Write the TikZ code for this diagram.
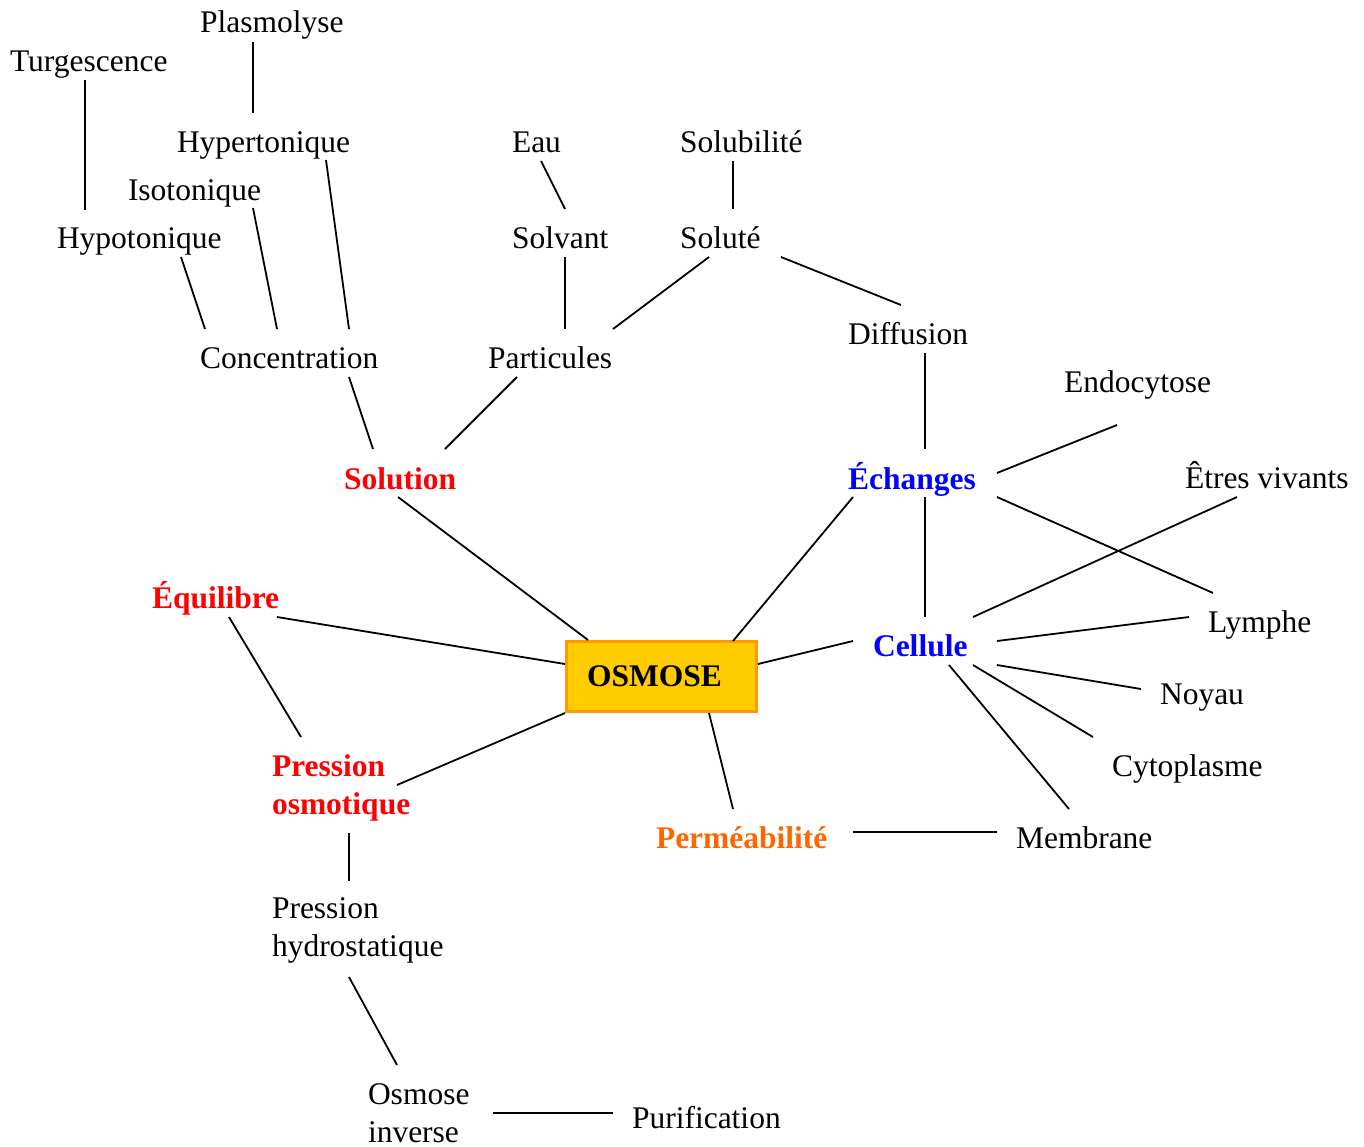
\documentclass[tikz,border=0pt]{standalone}
\usepackage{fontspec}
\setmainfont{Liberation Serif}
\definecolor{cred}{HTML}{FF0000}
\definecolor{cblue}{HTML}{0000FF}
\definecolor{corange}{HTML}{FF6600}
\definecolor{boxfill}{HTML}{FFCC00}
\definecolor{boxline}{HTML}{FF9900}
\begin{document}
\begin{tikzpicture}[x=1pt,y=-1pt,
  lbl/.style={anchor=base west,inner sep=0pt,outer sep=0pt,font=\fontsize{31.5}{38}\selectfont,align=left},
  keyred/.style={lbl,text=cred,font=\fontsize{31.5}{38}\selectfont\bfseries},
  keyblue/.style={lbl,text=cblue,font=\fontsize{31.5}{38}\selectfont\bfseries},
  keyorange/.style={lbl,text=corange,font=\fontsize{31.5}{38}\selectfont\bfseries},
  centerbox/.style={draw=boxline,fill=boxfill,line width=3pt,minimum width=190pt,minimum height=70pt,inner sep=0pt,font=\fontsize{31.5}{38}\selectfont\bfseries},
  conn/.style={draw=black,line width=1.8pt}]
\useasboundingbox (0,0) rectangle (1364,1146);
% nodes
\node[lbl] (plas) at (200,32) {Plasmolyse};
\node[lbl] (turg) at (10,71) {Turgescence};
\node[lbl] (hyper) at (177,152) {Hypertonique};
\node[lbl] (iso) at (128,200) {Isotonique};
\node[lbl] (hypo) at (57,248) {Hypotonique};
\node[lbl] (eau) at (512,152) {Eau};
\node[lbl] (solub) at (680,152) {Solubilité};
\node[lbl] (solv) at (512,248) {Solvant};
\node[lbl] (solute) at (680,248) {Soluté};
\node[lbl] (conc) at (200,368) {Concentration};
\node[lbl] (part) at (488,368) {Particules};
\node[lbl] (diff) at (848,344) {Diffusion};
\node[lbl] (endo) at (1064,392) {Endocytose};
\node[keyred] (solution) at (344,489) {Solution};
\node[keyblue] (ech) at (848,489) {Échanges};
\node[lbl] (etres) at (1185,488) {Êtres vivants};
\node[keyred] (equi) at (152,608) {Équilibre};
\node[lbl] (lymphe) at (1208,632) {Lymphe};
\node[keyblue] (cellule) at (873,656) {Cellule};
\node[centerbox] (osm) at (661.5,676.5) {OSMOSE\hspace*{14pt}};
\node[lbl] (noyau) at (1160,704) {Noyau};
\node[keyred] (posm) at (272,814) {Pression\\osmotique};
\node[lbl] (cyto) at (1112,776) {Cytoplasme};
\node[keyorange] (perm) at (656,848) {Perméabilité};
\node[lbl] (memb) at (1016,848) {Membrane};
\node[lbl] (phyd) at (272,956) {Pression\\hydrostatique};
\node[lbl] (oinv) at (368,1142) {Osmose\\inverse};
\node[lbl] (purif) at (632,1128) {Purification};
% connectors
\newcommand\lnk[4]{\draw[conn] ([shift={#2}]#1) -- ([shift={#4}]#3);}
\lnk{turg.base west}{(75,9)}{hypo.base west}{(28,-38)}
\lnk{plas.base west}{(53,10)}{hyper.base west}{(76,-39)}
\lnk{hyper.base west}{(149,8)}{conc.base west}{(149,-39)}
\lnk{iso.base west}{(125,8)}{conc.base west}{(77,-39)}
\lnk{hypo.base west}{(124,9)}{conc.base west}{(5,-39)}
\lnk{conc.base west}{(149,9)}{solution.base west}{(29,-40)}
\lnk{eau.base west}{(29,9)}{solv.base west}{(53,-39)}
\lnk{solub.base west}{(53,9)}{solute.base west}{(53,-39)}
\lnk{solv.base west}{(53,9)}{part.base west}{(77,-39)}
\lnk{solute.base west}{(29,9)}{part.base west}{(125,-39)}
\lnk{solute.base west}{(101,9)}{diff.base west}{(53,-39)}
\lnk{part.base west}{(29,9)}{solution.base west}{(101,-40)}
\lnk{diff.base west}{(77,9)}{ech.base west}{(77,-40)}
\lnk{ech.base west}{(149,-16)}{endo.base west}{(53,33)}
\lnk{ech.base west}{(149,8)}{lymphe.base west}{(5,-39)}
\lnk{ech.base west}{(77,8)}{cellule.base west}{(52,-39)}
\lnk{ech.base west}{(5,8)}{osm.center}{(71.5,-35.5)}
\lnk{solution.base west}{(54,8)}{osm.center}{(-73.5,-36.5)}
\lnk{etres.base west}{(52,9)}{cellule.base west}{(100,-39)}
\lnk{cellule.base west}{(124,-15)}{lymphe.base west}{(-19,-15)}
\lnk{cellule.base west}{(-20,-15)}{osm.center}{(96.5,-12.5)}
\lnk{cellule.base west}{(124,9)}{noyau.base west}{(-19,-15)}
\lnk{cellule.base west}{(100,9)}{cyto.base west}{(-19,-39)}
\lnk{cellule.base west}{(76,9)}{memb.base west}{(53,-39)}
\lnk{equi.base west}{(125,9)}{osm.center}{(-96.5,-12.5)}
\lnk{equi.base west}{(77,9)}{posm.base west}{(29,-77)}
\lnk{osm.center}{(-96.5,36.5)}{posm.base west}{(125,-29)}
\lnk{osm.center}{(47.5,36.5)}{perm.base west}{(77,-39)}
\lnk{perm.base west}{(197,-16)}{memb.base west}{(-19,-16)}
\lnk{posm.base west}{(77,19)}{phyd.base west}{(77,-75)}
\lnk{phyd.base west}{(77,21)}{oinv.base west}{(29,-77)}
\lnk{oinv.base west}{(125,-29)}{purif.base west}{(-19,-15)}
\end{tikzpicture}
\end{document}
